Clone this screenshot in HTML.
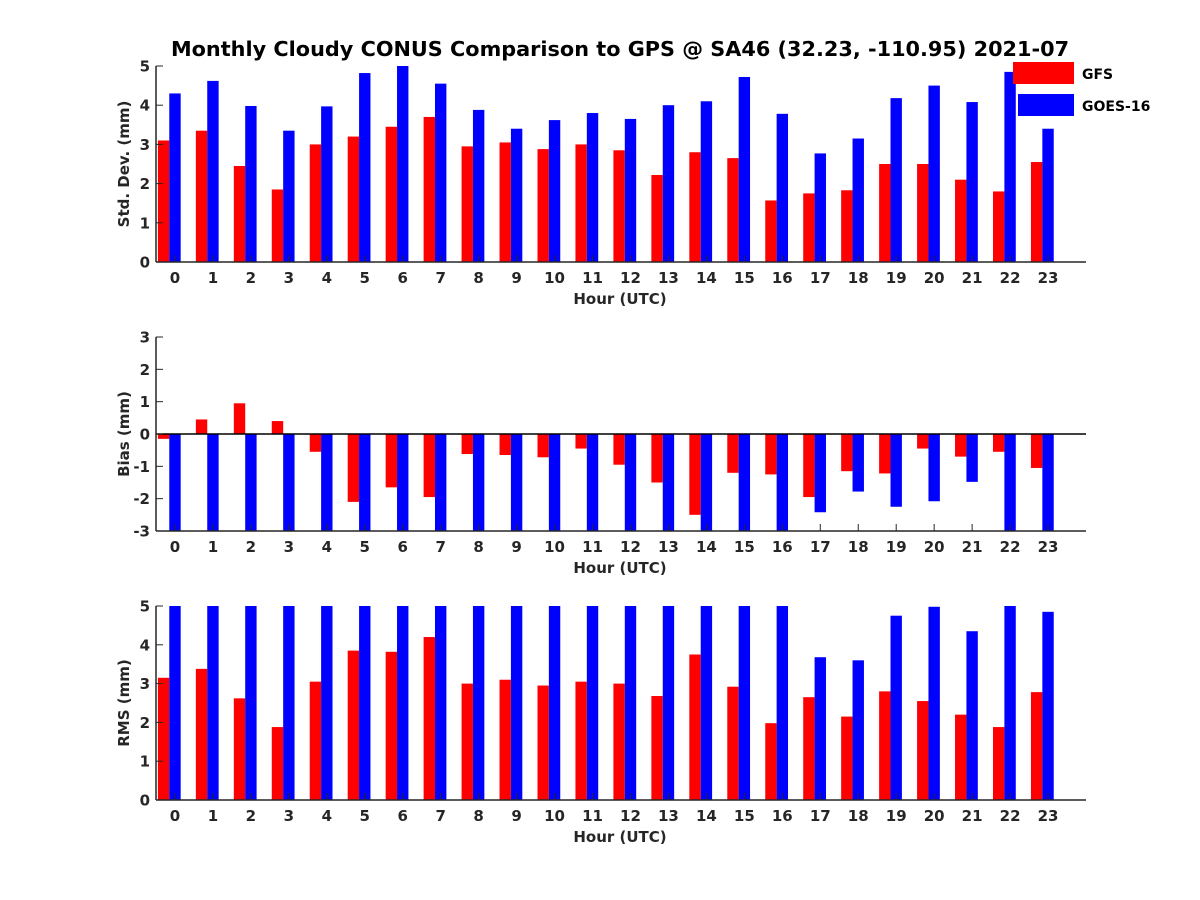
<!DOCTYPE html>
<html><head><meta charset="utf-8"><style>
html,body{margin:0;padding:0;background:#fff;}
svg{display:block;font-family:"DejaVu Sans","Liberation Sans",sans-serif;font-weight:bold;}
</style></head><body>
<svg id="chart" width="1200" height="900" viewBox="0 0 1200 900">
<rect width="1200" height="900" fill="#fff"/>
<text x="620" y="56" font-size="20.8" text-anchor="middle">Monthly Cloudy CONUS Comparison to GPS @ SA46 (32.23, -110.95) 2021-07</text>
</svg>
<script>
const hours = [0,1,2,3,4,5,6,7,8,9,10,11,12,13,14,15,16,17,18,19,20,21,22,23];
const stdGFS = [3.1,3.35,2.45,1.85,3.0,3.2,3.45,3.7,2.95,3.05,2.88,3.0,2.85,2.22,2.8,2.65,1.57,1.75,1.83,2.5,2.5,2.1,1.8,2.55];
const stdGOES = [4.3,4.62,3.98,3.35,3.97,4.82,5.2,4.55,3.88,3.4,3.62,3.8,3.65,4.0,4.1,4.72,3.78,2.77,3.15,4.18,4.5,4.08,4.85,3.4];
const biasGFS = [-0.15,0.45,0.95,0.4,-0.55,-2.1,-1.65,-1.95,-0.62,-0.65,-0.72,-0.45,-0.95,-1.5,-2.5,-1.2,-1.25,-1.95,-1.15,-1.22,-0.45,-0.7,-0.55,-1.05];
const biasGOES = [-3.5,-3.5,-3.5,-3.5,-3.5,-3.5,-3.5,-3.5,-3.5,-3.5,-3.5,-3.5,-3.5,-3.5,-3.5,-3.5,-3.5,-2.42,-1.78,-2.25,-2.08,-1.48,-3.5,-3.5];
const rmsGFS = [3.15,3.38,2.62,1.88,3.05,3.85,3.82,4.2,3.0,3.1,2.95,3.05,3.0,2.68,3.75,2.92,1.98,2.65,2.15,2.8,2.55,2.2,1.88,2.78];
const rmsGOES = [6,6,6,6,6,6,6,6,6,6,6,6,6,6,6,6,6,3.68,3.6,4.75,4.98,4.35,6,4.85];
const stdTicks = [0,1,2,3,4,5];
const biasTicks = [-3,-2,-1,0,1,2,3];
const rmsTicks = [0,1,2,3,4,5];

const NS = "http://www.w3.org/2000/svg";
const svg = document.getElementById('chart');
const X0 = 156, X1 = 1086;
function xs(v){ return X0 + (v + 0.5) / 24.5 * (X1 - X0); }
function mk(tag, attrs, parent){
  const e = document.createElementNS(NS, tag);
  for (const k in attrs) e.setAttribute(k, attrs[k]);
  (parent || svg).appendChild(e);
  return e;
}
function panel(key, top, bottom, ymin, ymax, ticks, gfs, goes, ylabel){
  const g = mk('g', {});
  
  
  const ys = v => bottom - (v - ymin) / (ymax - ymin) * (bottom - top);
  const clip = mk('clipPath', {id: 'clip-' + key}, g);
  mk('rect', {x: X0, y: top, width: X1 - X0, height: bottom - top}, clip);
  const bars = mk('g', {'clip-path': 'url(#clip-' + key + ')'}, g);
  const base = ymin < 0 ? ys(0) : bottom;
  hours.forEach((h, i) => {
    [[gfs[i], -0.45, '#ff0000', 'gfs'], [goes[i], -0.15, '#0000ff', 'goes']].forEach(([v, off, c, s]) => {
      const y = ys(v);
      const r = mk('rect', {x: xs(h + off), y: Math.min(y, base), width: xs(h + off + 0.3) - xs(h + off), height: Math.abs(base - y), fill: c}, bars);
      
      
    });
  });
  if (ymin < 0) mk('line', {x1: X0, x2: X1, y1: base, y2: base, stroke: '#000', 'stroke-width': 1.5}, g);
  mk('line', {x1: X0, x2: X0, y1: top, y2: bottom, stroke: '#262626', 'stroke-width': 1.5}, g);
  mk('line', {x1: X0, x2: X1, y1: bottom, y2: bottom, stroke: '#262626', 'stroke-width': 1.5}, g);
  ticks.forEach(t => {
    const y = ys(t);
    mk('line', {x1: X0, x2: X0 + 7, y1: y, y2: y, stroke: '#262626', 'stroke-width': 1}, g);
    const tx = mk('text', {x: X0 - 6, y: y + 5.5, 'font-size': 15, 'text-anchor': 'end', fill: '#262626'}, g);
    tx.textContent = t;
    
    
  });
  hours.forEach(h => {
    const x = xs(h);
    mk('line', {x1: x, x2: x, y1: bottom, y2: bottom - 7, stroke: '#262626', 'stroke-width': 1}, g);
    const tx = mk('text', {x: x, y: bottom + 21, 'font-size': 15, 'text-anchor': 'middle', fill: '#262626'}, g);
    tx.textContent = h;
    
    
  });
  const xl = mk('text', {x: 620, y: bottom + 42, 'font-size': 15, 'text-anchor': 'middle', fill: '#262626'}, g);
  xl.textContent = 'Hour (UTC)';
  
  
  const cy = (top + bottom) / 2;
  const yl = mk('text', {x: 129, y: cy, 'font-size': 15, 'text-anchor': 'middle', fill: '#262626', transform: 'rotate(-90 129 ' + cy + ')'}, g);
  yl.textContent = ylabel;
  
  
}
panel('std', 66, 262, 0, 5, stdTicks, stdGFS, stdGOES, 'Std. Dev. (mm)');
panel('bias', 337, 531, -3, 3, biasTicks, biasGFS, biasGOES, 'Bias (mm)');
panel('rms', 606, 800, 0, 5, rmsTicks, rmsGFS, rmsGOES, 'RMS (mm)');

const lg = mk('g', {});


const l1 = mk('rect', {x: 1013, y: 62, width: 61, height: 22, fill: '#ff0000'}, lg);


const l2 = mk('rect', {x: 1018, y: 94, width: 56, height: 22, fill: '#0000ff'}, lg);


const t1 = mk('text', {x: 1082, y: 79, 'font-size': 14}, lg);
t1.textContent = 'GFS';


const t2 = mk('text', {x: 1082, y: 111, 'font-size': 14}, lg);
t2.textContent = 'GOES-16';


</script>
</body></html>
